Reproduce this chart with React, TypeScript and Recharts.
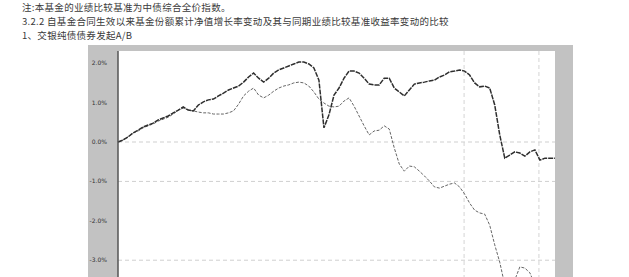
import React from "react";
import { LineChart, Line, XAxis, YAxis, CartesianGrid, ReferenceLine } from "recharts";

const noteLines = [
  "注:本基金的业绩比较基准为中债综合全价指数。",
  "3.2.2 自基金合同生效以来基金份额累计净值增长率变动及其与同期业绩比较基准收益率变动的比较",
  "1、交银纯债债券发起A/B",
];

const yTicks = [2, 1, 0, -1, -2, -3];
const yTickLabels = ["2.0%", "1.0%", "0.0%", "-1.0%", "-2.0%", "-3.0%"];
const gridValues = [0, -1, -3];
const gridPeriods = [68.9, 83.8];

// 基金份额累计净值增长率 (%)
const fundReturn = [
  0.0, 0.05, 0.13, 0.23, 0.3, 0.38, 0.43, 0.48, 0.56, 0.61,
  0.66, 0.74, 0.81, 0.89, 0.81, 0.79, 0.94, 1.02, 1.07, 1.09,
  1.17, 1.24, 1.32, 1.37, 1.42, 1.52, 1.65, 1.75, 1.62, 1.52,
  1.62, 1.75, 1.83, 1.88, 1.93, 1.98, 2.03, 2.03, 1.98, 1.88,
  1.57, 0.36, 0.69, 1.19, 1.37, 1.62, 1.8, 1.8, 1.75, 1.62,
  1.47, 1.45, 1.45, 1.62, 1.62, 1.37, 1.27, 1.17, 1.32, 1.47,
  1.5, 1.52, 1.55, 1.57, 1.65, 1.7, 1.78, 1.8, 1.83, 1.8,
  1.7, 1.5, 1.4, 1.42, 1.37, 0.94, 0.18, -0.41, -0.33, -0.25,
  -0.28, -0.36, -0.25, -0.2, -0.46, -0.41, -0.41, -0.41,
];

// 业绩比较基准收益率 (%)
const benchmarkReturn = [
  0.0, 0.05, 0.13, 0.23, 0.28, 0.36, 0.41, 0.46, 0.53, 0.58,
  0.63, 0.71, 0.81, 0.86, 0.81, 0.79, 0.76, 0.74, 0.74, 0.71,
  0.71, 0.71, 0.74, 0.79, 0.96, 1.17, 1.29, 1.37, 1.19, 1.12,
  1.19, 1.29, 1.37, 1.42, 1.45, 1.5, 1.52, 1.5, 1.42, 1.27,
  1.09, 0.99, 0.91, 0.89, 0.91, 1.04, 1.12, 0.91, 0.66, 0.41,
  0.18, 0.28, 0.3, 0.41, 0.33, -0.15, -0.56, -0.74, -0.61, -0.63,
  -0.74, -0.86, -0.99, -1.14, -1.17, -1.12, -1.07, -1.04, -1.14, -1.32,
  -1.55, -1.73, -1.8, -1.83, -2.11, -2.61, -3.05, -3.63, -3.88, -3.5,
  -3.17, -3.2, -3.32, -3.63, -3.76, -3.81, -3.81, -3.81,
];

const data = fundReturn.map((v, i) => ({ i, fund: v, bench: benchmarkReturn[i] }));
const lastIndex = fundReturn.length - 1;

const YTick = (props: any) => {
  const { x, y, payload } = props;
  const idx = yTicks.indexOf(payload.value);
  return (
    <text x={x - 3} y={y + 2} textAnchor="end" fontSize={6} fill="#333" fontFamily="DejaVu Sans">
      {yTickLabels[idx]}
    </text>
  );
};

export default function App() {
  return (
    <div
      style={{
        position: "fixed",
        left: 0,
        top: 0,
        width: 629,
        height: 277,
        overflow: "hidden",
        background: "#fff",
      }}
    >
      <div
        style={{
          position: "absolute",
          left: 22,
          top: 0,
          fontSize: 9.5,
          letterSpacing: 0.3,
          lineHeight: "14px",
          color: "#3a3a3a",
          fontFamily: "'Noto Sans CJK SC', serif",
          whiteSpace: "nowrap",
        }}
      >
        {noteLines.map((t, k) => (
          <div key={k}>{t}</div>
        ))}
      </div>
      <div
        style={{
          position: "absolute",
          left: 88,
          top: 45,
          width: 485,
          height: 255,
          background: "#c2c2c2",
        }}
      >
        <LineChart width={485} height={255} data={data} margin={{ top: 6, right: 18, left: 0, bottom: 0 }}>
          <CartesianGrid fill="#ffffff" horizontal={false} vertical={false} />
          <XAxis type="number" dataKey="i" domain={[0, lastIndex]} hide />
          <YAxis
            type="number"
            domain={[-4.01, 2.31]}
            allowDataOverflow
            ticks={yTicks}
            width={30}
            tick={<YTick />}
            tickLine={false}
            axisLine={{ stroke: "#555", strokeWidth: 1.5 }}
          />
          {gridValues.map((g) => (
            <ReferenceLine key={"h" + g} y={g} stroke="#cfcfcf" strokeDasharray="4 3" />
          ))}
          {gridPeriods.map((g) => (
            <ReferenceLine key={"v" + g} x={g} stroke="#d4d4d4" strokeDasharray="4 3" />
          ))}
          <Line
            type="linear"
            dataKey="bench"
            stroke="#666666"
            strokeWidth={1}
            strokeDasharray="3 1.5"
            dot={false}
            isAnimationActive={false}
          />
          <Line
            type="linear"
            dataKey="fund"
            stroke="#2e2e2e"
            strokeWidth={1.5}
            strokeDasharray="5 1"
            dot={false}
            isAnimationActive={false}
          />
        </LineChart>
      </div>
    </div>
  );
}
